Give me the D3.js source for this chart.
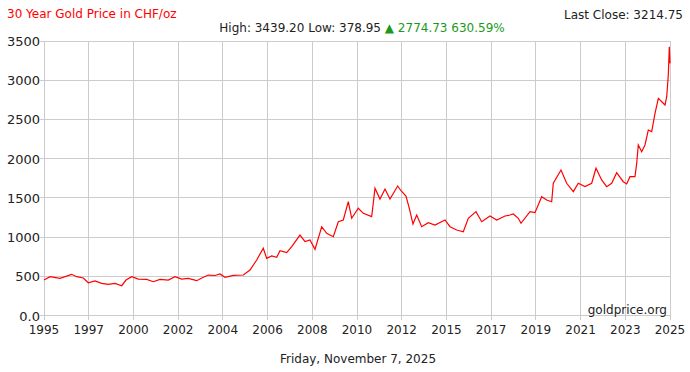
<!DOCTYPE html>
<html>
<head>
<meta charset="utf-8">
<script src="https://cdn.jsdelivr.net/npm/d3@7"></script>
<style>
  body { margin: 0; background: #fff; }
  svg text { font-family: "DejaVu Sans", Verdana, sans-serif; }
</style>
</head>
<body>
<svg id="chart" width="690" height="372"></svg>
<script>
// tick labels along the bottom (evenly spaced by the source chart)
var xLabels = ["1995","1997","2000","2002","2004","2006","2008","2010","2012","2015","2017","2019","2021","2023","2025"];
var yTicks = [0, 500, 1000, 1500, 2000, 2500, 3000, 3500];

// position along the 30 year span (years since start) and price in CHF/oz
var years = [0,0.288,0.767,1.327,1.567,1.883,2.123,2.444,2.765,3.081,3.403,3.724,3.930,4.203,4.519,4.922,5.238,5.559,5.957,6.278,6.599,6.915,7.318,7.634,7.874,8.195,8.435,8.674,9.072,9.551,9.872,10.193,10.509,10.672,10.912,11.151,11.310,11.631,11.871,12.268,12.508,12.748,12.987,13.308,13.548,13.864,14.104,14.343,14.583,14.746,15.062,15.302,15.704,15.863,16.102,16.342,16.581,16.950,17.108,17.348,17.516,17.684,17.861,18.100,18.416,18.738,19.217,19.457,19.778,20.094,20.334,20.703,20.976,21.374,21.695,22.093,22.332,22.491,22.730,22.859,23.291,23.530,23.851,24.091,24.330,24.407,24.776,25.049,25.366,25.605,25.926,26.247,26.453,26.726,26.966,27.206,27.445,27.761,27.924,28.083,28.322,28.404,28.480,28.643,28.801,28.960,29.123,29.281,29.442,29.603,29.761,29.843,29.919,29.967,30];
var prices = [452,495,474,525,495,478,418,440,410,398,410,380,452,495,465,461,431,461,452,495,465,474,444,487,516,510,529,487,512,516,580,708,857,729,759,742,827,801,877,1026,942,963,844,1132,1048,1005,1196,1218,1451,1239,1367,1303,1260,1622,1485,1613,1485,1651,1591,1523,1357,1166,1281,1132,1183,1154,1218,1132,1090,1068,1239,1324,1196,1269,1218,1269,1281,1294,1239,1176,1324,1311,1515,1473,1451,1686,1855,1686,1579,1686,1643,1686,1877,1728,1643,1686,1821,1706,1677,1770,1770,1941,2174,2089,2174,2365,2344,2578,2769,2726,2684,2790,3066,3427,3215];

var svg = d3.select("#chart");
var mLeft = 44, mRight = 670, mTop = 41, mBottom = 315.5;

var x = d3.scaleLinear().domain([0, 30]).range([mLeft, mRight]);
var y = d3.scaleLinear().domain([0, 3500]).range([mBottom, mTop]);
var tickPos = d3.scaleLinear().domain([0, xLabels.length - 1]).range([mLeft, mRight]);

// grid
var grid = svg.append("g").attr("stroke", "#cccccc").attr("stroke-width", 1).attr("shape-rendering", "crispEdges");
yTicks.forEach(function (v) {
  grid.append("line").attr("x1", mLeft - 4).attr("x2", mRight).attr("y1", y(v)).attr("y2", y(v));
});
xLabels.forEach(function (l, i) {
  grid.append("line").attr("x1", tickPos(i)).attr("x2", tickPos(i)).attr("y1", mTop).attr("y2", mBottom + 4);
});

// axis labels
svg.append("g").selectAll("text").data(yTicks).join("text")
  .attr("x", mLeft - 4).attr("y", function (d) { return y(d) + 5; })
  .attr("text-anchor", "end").attr("font-size", 13).attr("fill", "#222")
  .text(function (d) { return d === 0 ? "0.0" : d; });

svg.append("g").selectAll("text").data(xLabels).join("text")
  .attr("x", function (d, i) { return tickPos(i); }).attr("y", 334)
  .attr("text-anchor", "middle").attr("font-size", 12).attr("fill", "#222")
  .text(function (d) { return d; });

// price line
var pts = years.map(function (t, i) { return [t, prices[i]]; });
svg.append("path").datum(pts)
  .attr("fill", "none").attr("stroke", "#ff0000").attr("stroke-width", 1.2)
  .attr("d", d3.line().x(function (d) { return x(d[0]); }).y(function (d) { return y(d[1]); }));

// texts
svg.append("text").attr("x", 7).attr("y", 18).attr("font-size", 12).attr("fill", "#ff0000")
  .text("30 Year Gold Price in CHF/oz");
svg.append("text").attr("x", 683).attr("y", 19).attr("text-anchor", "end").attr("font-size", 12).attr("fill", "#222")
  .text("Last Close: 3214.75");
var stats = svg.append("text").attr("x", 362).attr("y", 32).attr("text-anchor", "middle").attr("font-size", 12);
stats.append("tspan").attr("fill", "#222").text("High: 3439.20 Low: 378.95 ");
stats.append("tspan").attr("fill", "#1a9a1a").text("\u25B2 2774.73 630.59%");
svg.append("text").attr("x", 667).attr("y", 314).attr("text-anchor", "end").attr("font-size", 12).attr("fill", "#222")
  .text("goldprice.org");
svg.append("text").attr("x", 358).attr("y", 363).attr("text-anchor", "middle").attr("font-size", 12).attr("fill", "#222")
  .text("Friday, November 7, 2025");
</script>
</body>
</html>
